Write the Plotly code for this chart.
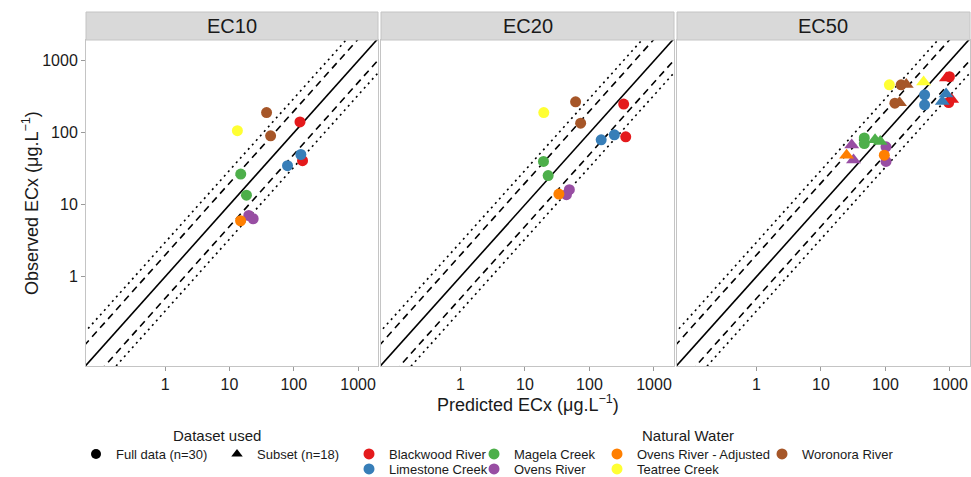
import plotly.graph_objects as go

# ---------------- data ----------------
panels = ["EC10", "EC20", "EC50"]
waters = ["Blackwood River", "Limestone Creek", "Magela Creek", "Ovens River",
          "Ovens River - Adjusted", "Teatree Creek", "Woronora River"]
water_colors = ["#E41A1C", "#377EB8", "#4DAF4A", "#984EA3", "#FF7F00", "#FFFF33", "#A65628"]
datasets = ["Full data (n=30)", "Subset (n=18)"]
dataset_symbols = ["circle", "triangle-up"]

ec10_full_water = ["Blackwood River", "Blackwood River", "Limestone Creek", "Limestone Creek",
                   "Magela Creek", "Magela Creek", "Ovens River", "Ovens River",
                   "Ovens River - Adjusted", "Teatree Creek", "Woronora River", "Woronora River"]
ec10_full_pred = [125, 137, 129, 80, 15, 18.4, 20, 23.4, 14.9, 13.3, 37.8, 43.7]
ec10_full_obs = [142, 41, 50, 35, 26.7, 13.6, 7.1, 6.4, 6.0, 107, 191, 91]

ec20_full_water = ec10_full_water
ec20_full_pred = [339, 365, 243, 152, 19.4, 22.9, 48.8, 44, 33.6, 19.6, 61, 73]
ec20_full_obs = [251, 88, 94, 80, 40, 25.5, 16.2, 13.8, 14.1, 191, 270, 136]

ec50_full_water = ec10_full_water
ec50_full_pred = [980, 955, 404, 404, 47, 47, 102, 102, 96, 115, 175, 140]
ec50_full_obs = [603, 264, 337, 245, 85, 71, 64, 40, 49, 464, 464, 258]

ec50_subset_water = ec10_full_water
ec50_subset_pred = [880, 1060, 760, 870, 69, 83, 30, 32, 25, 390, 210, 165]
ec50_subset_obs = [580, 290, 272, 347, 80, 76, 68, 42, 49, 510, 470, 262]

# reference lines: observed = factor * predicted
line_factors = [1, 2, 0.5, 3, 1 / 3]
line_dashes = ["solid", "7px,5px", "7px,5px", "2px,4px", "2px,4px"]

x_tickvals = [1, 10, 100, 1000]
x_ticktext = ["1", "10", "100", "1000"]
y_tickvals = [1, 10, 100, 1000]
y_ticktext = ["1", "10", "100", "1000"]

# ---------------- figure ----------------
W, H = 971, 477
ML, MR, MT, MB = 86, 1, 12, 111
PW = W - ML - MR
PH = H - MT - MB


def px_x(p):
    return (p - ML) / PW


def px_y(p):
    return (H - MB - p) / PH


panel_px = [(86, 378), (381, 674), (677, 970)]
panel_top = 40
strip_top = 12

fig = go.Figure()

panel_series = {
    "EC10": [(ec10_full_water, ec10_full_pred, ec10_full_obs, 0)],
    "EC20": [(ec20_full_water, ec20_full_pred, ec20_full_obs, 0)],
    "EC50": [(ec50_full_water, ec50_full_pred, ec50_full_obs, 0),
             (ec50_subset_water, ec50_subset_pred, ec50_subset_obs, 1)],
}

line_x = [1e-3, 1e5]
for i, pname in enumerate(panels):
    xa = "x" if i == 0 else f"x{i+1}"
    ya = "y" if i == 0 else f"y{i+1}"
    for f, d in zip(line_factors, line_dashes):
        fig.add_trace(go.Scatter(
            x=line_x, y=[v * f for v in line_x], mode="lines",
            line=dict(color="black", width=1.6, dash=d),
            showlegend=False, hoverinfo="skip", xaxis=xa, yaxis=ya))
    for wlist, pred, obs, di in panel_series[pname]:
        for w, c in zip(waters, water_colors):
            idx = [k for k, ww in enumerate(wlist) if ww == w]
            if not idx:
                continue
            fig.add_trace(go.Scatter(
                x=[pred[k] for k in idx], y=[obs[k] for k in idx], mode="markers",
                marker=dict(color=c, size=11 if di == 0 else 13,
                            symbol=dataset_symbols[di], line=dict(width=0)),
                showlegend=False, name=w, xaxis=xa, yaxis=ya))

# one legend per entry so every key sits where the reference has it
# (text start x, row y) in pixels
row1, row2 = 454, 469
dataset_pos = [(113, row1), (254, row1)]
water_pos = [(386, row1), (386, row2), (511, row1), (511, row2), (634, row1), (634, row2), (799, row1)]

leg_font = dict(size=13, color="#1A1A1A", family="Liberation Sans, Arial, sans-serif")
legend_layout = {}
k = 1
for ds, sym, (tx, ty) in zip(datasets, dataset_symbols, dataset_pos):
    lname = "legend" if k == 1 else f"legend{k}"
    fig.add_trace(go.Scatter(x=[None], y=[None], mode="markers", name=ds,
                             marker=dict(color="black", size=10, symbol=sym),
                             legend=lname, showlegend=True))
    legend_layout[lname] = dict(x=px_x(tx - 37), y=px_y(ty), xanchor="left", yanchor="middle",
                                font=leg_font, bgcolor="rgba(0,0,0,0)")
    k += 1
for w, c, (tx, ty) in zip(waters, water_colors, water_pos):
    lname = f"legend{k}"
    fig.add_trace(go.Scatter(x=[None], y=[None], mode="markers", name=w,
                             marker=dict(color=c, size=11, symbol="circle"),
                             legend=lname, showlegend=True))
    legend_layout[lname] = dict(x=px_x(tx - 37), y=px_y(ty), xanchor="left", yanchor="middle",
                                font=leg_font, bgcolor="rgba(0,0,0,0)")
    k += 1

axis_common = dict(type="log", showgrid=False, zeroline=False, showline=True, mirror=True,
                   linecolor="#C4C4C4", linewidth=1, ticks="outside", ticklen=4,
                   tickcolor="#9A9A9A", tickfont=dict(size=16, color="#1A1A1A"))

yrange = [-1.24, 3.29]
xrange = [-1.23, 3.31]
y_dom = [0, px_y(panel_top)]

layout = dict(
    width=W, height=H,
    margin=dict(l=ML, r=MR, t=MT, b=MB, autoexpand=False),
    paper_bgcolor="white", plot_bgcolor="white",
    font=dict(family="Liberation Sans, Arial, sans-serif", color="#1A1A1A"),
)
for i in range(3):
    xk = "xaxis" if i == 0 else f"xaxis{i+1}"
    yk = "yaxis" if i == 0 else f"yaxis{i+1}"
    dom = [px_x(panel_px[i][0]), px_x(panel_px[i][1])]
    layout[xk] = dict(axis_common, domain=dom, range=xrange, tickvals=x_tickvals,
                      ticktext=x_ticktext, anchor="y" if i == 0 else f"y{i+1}")
    layout[yk] = dict(axis_common, domain=y_dom, range=yrange, tickvals=y_tickvals,
                      ticktext=y_ticktext, anchor="x" if i == 0 else f"x{i+1}",
                      showticklabels=(i == 0), ticks="outside" if i == 0 else "")
layout.update(legend_layout)
fig.update_layout(**layout)

shapes = []
annotations = []
for i, pname in enumerate(panels):
    x0, x1 = px_x(panel_px[i][0]), px_x(panel_px[i][1])
    shapes.append(dict(type="rect", xref="paper", yref="paper", x0=x0, x1=x1,
                       y0=px_y(panel_top), y1=px_y(strip_top),
                       fillcolor="#D9D9D9", line=dict(color="#C4C4C4", width=1), layer="above"))
    annotations.append(dict(text=pname, xref="paper", yref="paper", x=(x0 + x1) / 2,
                            y=px_y((panel_top + strip_top) / 2), showarrow=False,
                            font=dict(size=20, color="#1A1A1A"), xanchor="center", yanchor="middle"))

annotations.append(dict(text="Predicted ECx (μg.L<sup>−1</sup>)", xref="paper", yref="paper",
                        x=px_x(528), y=px_y(403), showarrow=False, font=dict(size=18),
                        xanchor="center", yanchor="middle"))
annotations.append(dict(text="Observed ECx (μg.L<sup>−1</sup>)", xref="paper", yref="paper",
                        x=px_x(30), y=px_y(203), showarrow=False, font=dict(size=18),
                        textangle=-90, xanchor="center", yanchor="middle"))
annotations.append(dict(text="Dataset used", xref="paper", yref="paper",
                        x=px_x(217), y=px_y(435), showarrow=False, font=dict(size=15),
                        xanchor="center", yanchor="middle"))
annotations.append(dict(text="Natural Water", xref="paper", yref="paper",
                        x=px_x(688), y=px_y(435), showarrow=False, font=dict(size=15),
                        xanchor="center", yanchor="middle"))
fig.update_layout(shapes=shapes, annotations=annotations)

fig.write_html("out.html")
